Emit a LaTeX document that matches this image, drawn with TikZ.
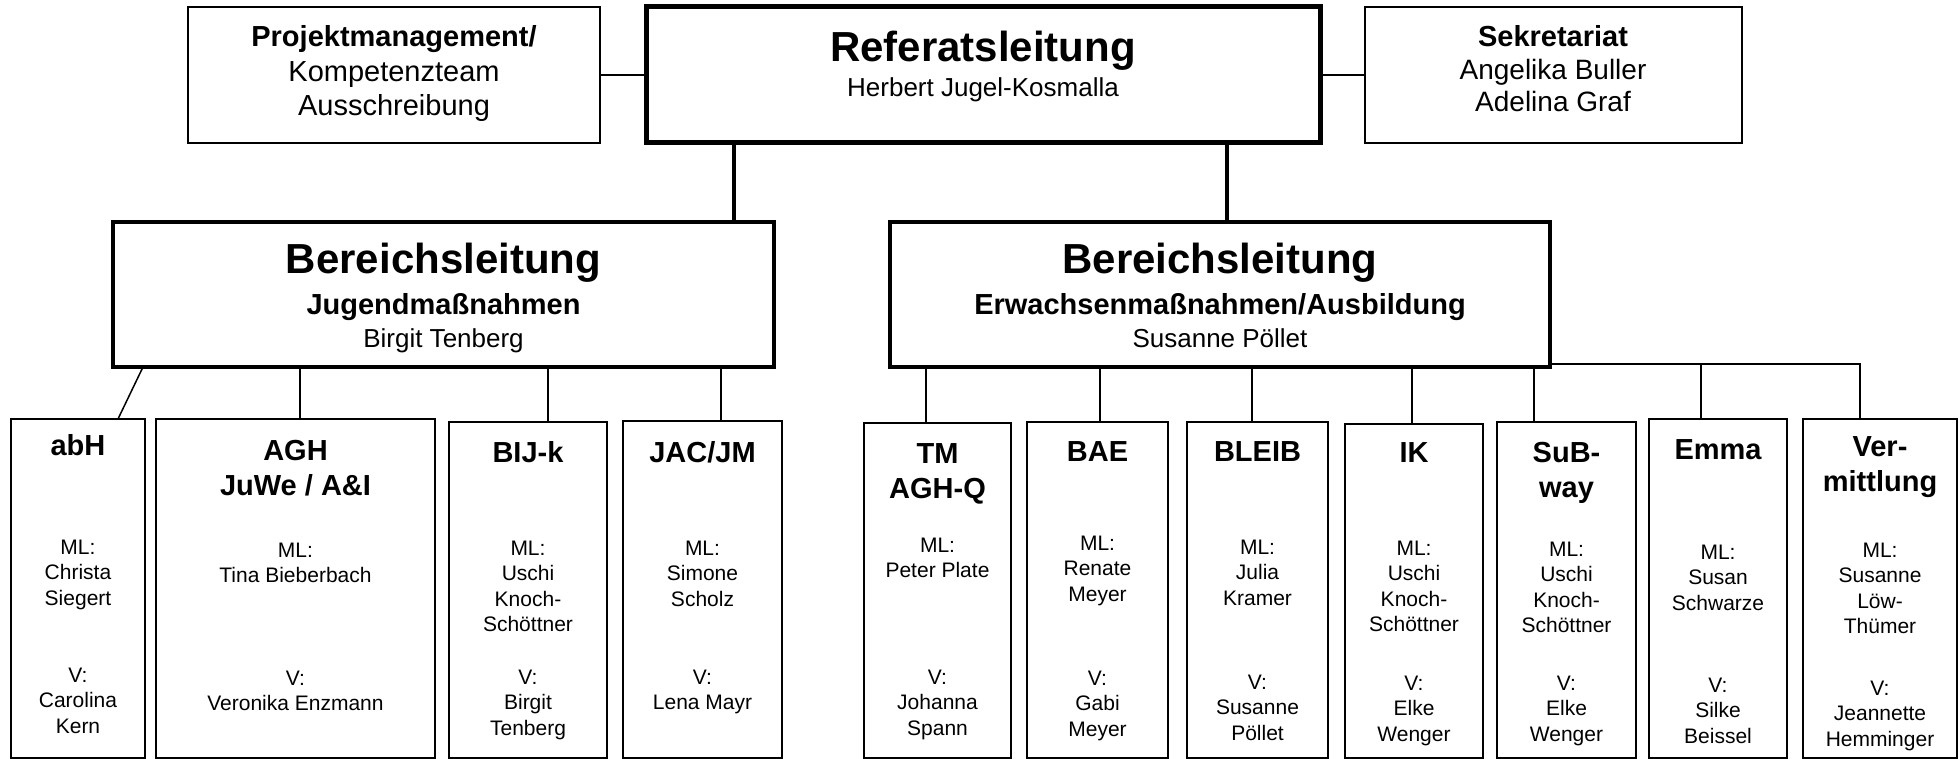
\documentclass[tikz,border=0pt]{standalone}
\usepackage{fontspec}
\setmainfont{Liberation Sans}
\begin{document}
\begin{tikzpicture}[x=1pt,y=-1pt,
  box/.style={draw, inner sep=0pt, outer sep=0pt, anchor=north west, line width=2.5pt},
  ttl/.style={font=\fontsize{29}{35}\selectfont\bfseries, align=center, inner sep=0pt, anchor=north},
  bdy/.style={font=\fontsize{21}{25.5}\selectfont, align=center, inner sep=0pt, anchor=north},
  hd/.style={inner sep=0pt, anchor=base},
  big/.style={hd, font=\fontsize{42}{50}\selectfont\bfseries},
  sub/.style={hd, font=\fontsize{29}{35}\selectfont\bfseries},
  nm/.style={hd, font=\fontsize{26}{31}\selectfont},
  top/.style={hd, font=\fontsize{28}{34}\selectfont},
  projtxt/.style={hd, font=\fontsize{29}{35}\selectfont},
  ln/.style={line width=1.5pt},
]
\useasboundingbox (0,0) rectangle (1959,759);

% ---- top row
\node[box, minimum width=412pt, minimum height=136pt] (proj) at (188,7) {};
\node[box, line width=5pt, minimum width=674pt, minimum height=136pt] (ref) at (646,7) {};
\node[box, minimum width=377pt, minimum height=136pt] (sek) at (1365,7) {};

\node[sub] (projA) at (394,47) {Projektmanagement/};
\node[projtxt] (projB) at (394,81.5) {Kompetenzteam};
\node[projtxt] (projC) at (394,115.5) {Ausschreibung};

\node[big] (refA) at (983,62) {Referatsleitung};
\node[nm] (refB) at (983,97) {Herbert Jugel-Kosmalla};

\node[sub] (sekA) at (1553,47) {Sekretariat};
\node[top] (sekB) at (1553,80) {Angelika Buller};
\node[top] (sekC) at (1553,112) {Adelina Graf};

\draw[line width=2pt] (proj.east) -- (ref.west);
\draw[line width=2pt] (ref.east) -- (sek.west);

% ---- Bereichsleitungen
\node[box, line width=4pt, minimum width=661pt, minimum height=145pt] (bl) at (113,222) {};
\node[box, line width=4pt, minimum width=660pt, minimum height=145pt] (br) at (890,222) {};

\node[big] (blA) at (443.5,273) {Bereichsleitung};
\node[sub] (blB) at (443.5,314) {Jugendmaßnahmen};
\node[nm] (blC) at (443.5,347) {Birgit Tenberg};

\node[big] (brA) at (1220,273) {Bereichsleitung};
\node[sub] (brB) at (1220,314) {Erwachsenmaßnahmen/Ausbildung};
\node[nm] (brC) at (1220,347) {Susanne Pöllet};

\draw[line width=4pt] ([xshift=-40pt]bl.north east) -- ([xshift=-40pt]bl.north east |- ref.south);
\draw[line width=4pt] ([xshift=7pt]br.north) -- ([xshift=7pt]br.north |- ref.south);

% ---- unit boxes
\node[box, minimum width=134pt, minimum height=339pt] (abH) at (11,419) {};
\node[box, minimum width=279pt, minimum height=339pt] (AGH) at (156,419) {};
\node[box, minimum width=158pt, minimum height=336pt] (BIJk) at (449,422) {};
\node[box, minimum width=159pt, minimum height=337pt] (JAC) at (623,421) {};
\node[box, minimum width=147pt, minimum height=335pt] (TM) at (864,423) {};
\node[box, minimum width=141pt, minimum height=336pt] (BAE) at (1027,422) {};
\node[box, minimum width=141pt, minimum height=336pt] (BLEIB) at (1187,422) {};
\node[box, minimum width=138pt, minimum height=334pt] (IK) at (1345,424) {};
\node[box, minimum width=139pt, minimum height=336pt] (SuB) at (1497,422) {};
\node[box, minimum width=138pt, minimum height=339pt] (Emma) at (1649,419) {};
\node[box, minimum width=154pt, minimum height=339pt] (Verm) at (1803,419) {};

% texts
\node[ttl] (abHt) at (78,434.6) {abH};
\node[bdy] (abHm) at (78,539.5) {ML:\\Christa\\Siegert};
\node[bdy] (abHv) at (78,667.5) {V:\\Carolina\\Kern};

\node[ttl] (AGHt) at (295.5,439.6) {AGH\\JuWe / A\&I};
\node[bdy] (AGHm) at (295.5,542.5) {ML:\\Tina Bieberbach};
\node[bdy] (AGHv) at (295.5,670.5) {V:\\Veronika Enzmann};

\node[ttl] (BIJkt) at (528,441.6) {BIJ-k};
\node[bdy] (BIJkm) at (528,540.5) {ML:\\Uschi\\Knoch-\\Schöttner};
\node[bdy] (BIJkv) at (528,669.5) {V:\\Birgit\\Tenberg};

\node[ttl] (JACt) at (702.5,441.6) {JAC/JM};
\node[bdy] (JACm) at (702.5,540.5) {ML:\\Simone\\Scholz};
\node[bdy] (JACv) at (702.5,669.5) {V:\\Lena Mayr};

\node[ttl] (TMt) at (937.5,443.6) {TM\\AGH-Q};
\node[bdy] (TMm) at (937.5,537.5) {ML:\\Peter Plate};
\node[bdy] (TMv) at (937.5,669.5) {V:\\Johanna\\Spann};

\node[ttl] (BAEt) at (1097.5,441.6) {BAE};
\node[bdy] (BAEm) at (1097.5,535.5) {ML:\\Renate\\Meyer};
\node[bdy] (BAEv) at (1097.5,670.5) {V:\\Gabi\\Meyer};

\node[ttl] (BLEIBt) at (1257.5,441.6) {BLEIB};
\node[bdy] (BLEIBm) at (1257.5,539.5) {ML:\\Julia\\Kramer};
\node[bdy] (BLEIBv) at (1257.5,674.5) {V:\\Susanne\\Pöllet};

\node[ttl] (IKt) at (1414,442.6) {IK};
\node[bdy] (IKm) at (1414,540.5) {ML:\\Uschi\\Knoch-\\Schöttner};
\node[bdy] (IKv) at (1414,675.5) {V:\\Elke\\Wenger};

\node[ttl] (SuBt) at (1566.5,441.6) {SuB-\\way};
\node[bdy] (SuBm) at (1566.5,541.5) {ML:\\Uschi\\Knoch-\\Schöttner};
\node[bdy] (SuBv) at (1566.5,675.5) {V:\\Elke\\Wenger};

\node[ttl] (Emmat) at (1718,439.6) {Emma};
\node[bdy] (Emmam) at (1718,544.5) {ML:\\Susan\\Schwarze};
\node[bdy] (Emmav) at (1718,677.5) {V:\\Silke\\Beissel};

\node[ttl] (Vermt) at (1880,436.6) {Ver-\\mittlung};
\node[bdy] (Vermm) at (1880,542.5) {ML:\\Susanne\\Löw-\\Thümer};
\node[bdy] (Vermv) at (1880,680.5) {V:\\Jeannette\\Hemminger};

% ---- connectors to units
\draw[ln] ([xshift=30pt]bl.south west) -- ([xshift=107pt]abH.north west);
\draw[ln] ([xshift=144pt]AGH.north west) -- ([xshift=144pt]AGH.north west |- bl.south);
\draw[ln] ([xshift=99pt]BIJk.north west) -- ([xshift=99pt]BIJk.north west |- bl.south);
\draw[ln] ([xshift=98pt]JAC.north west) -- ([xshift=98pt]JAC.north west |- bl.south);

\draw[ln] ([xshift=62pt]TM.north west) -- ([xshift=62pt]TM.north west |- br.south);
\draw[ln] ([xshift=73pt]BAE.north west) -- ([xshift=73pt]BAE.north west |- br.south);
\draw[ln] ([xshift=65pt]BLEIB.north west) -- ([xshift=65pt]BLEIB.north west |- br.south);
\draw[ln] ([xshift=67pt]IK.north west) -- ([xshift=67pt]IK.north west |- br.south);
\draw[ln] ([xshift=37pt]SuB.north west) -- ([xshift=37pt]SuB.north west |- br.south);
\draw[ln] ([yshift=3pt]br.south east) -| ([xshift=57pt]Verm.north west);
\draw[ln] ([xshift=52pt]Emma.north west) -- ([xshift=52pt,yshift=3pt]Emma.north west |- br.south);
\end{tikzpicture}
\end{document}
